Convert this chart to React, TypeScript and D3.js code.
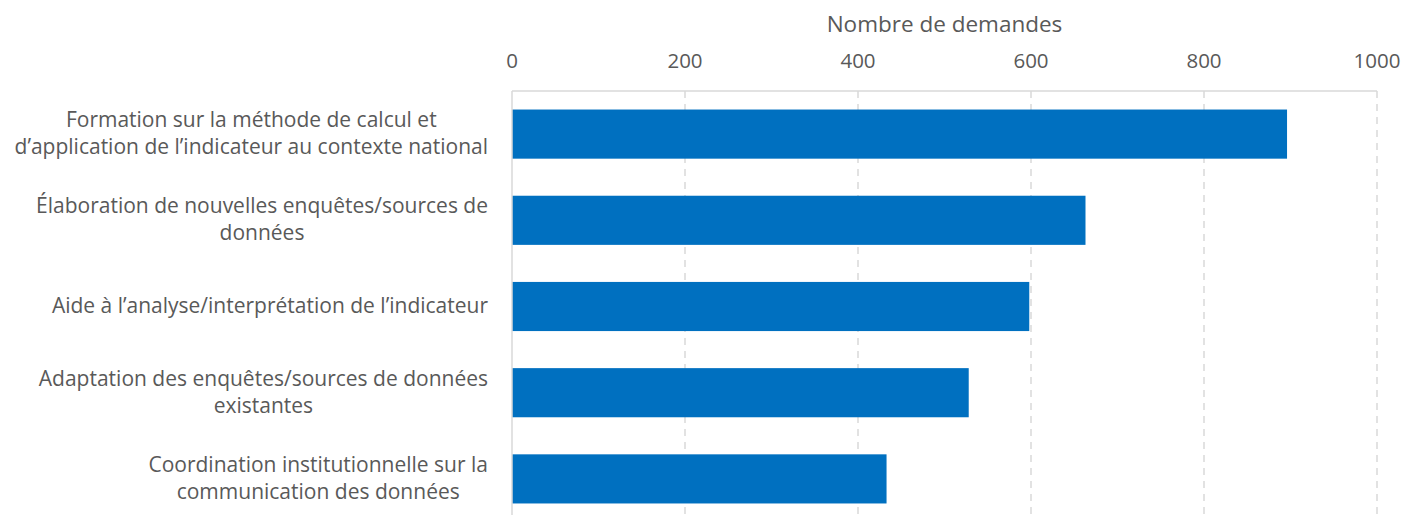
import React, { useEffect, useRef } from "react";
import * as d3 from "d3";

const categories: string[][] = [
  ["Formation sur la méthode de calcul et", "d’application de l’indicateur au contexte national"],
  ["Élaboration de nouvelles enquêtes/sources de", "données"],
  ["Aide à l’analyse/interprétation de l’indicateur"],
  ["Adaptation des enquêtes/sources de données", "existantes"],
  ["Coordination institutionnelle sur la", "communication des données"],
];
const values: number[] = [896, 663, 598, 528, 433];
const xTicks: number[] = [0, 200, 400, 600, 800, 1000];
const axisTitle = "Nombre de demandes";

const W = 1403;
const H = 515;
const FONT = "'Open Sans', sans-serif";
const TEXT = "#595959";

export default function App() {
  const ref = useRef<SVGSVGElement>(null);
  useEffect(() => {
    const svg = d3.select(ref.current);
    svg.selectAll("*").remove();
    const x = d3.scaleLinear().domain([0, 1000]).range([512, 1377]);
    const ids = categories.map((_, i) => String(i));
    const y = d3.scaleBand().domain(ids).range([91, 522]).paddingInner(0.43).paddingOuter(0.215);

    // gridlines
    svg.append("g").selectAll("line").data(xTicks.filter((t) => t > 0)).join("line")
      .attr("x1", (d) => x(d)).attr("x2", (d) => x(d))
      .attr("y1", 91).attr("y2", 522)
      .attr("stroke", "#d9d9d9").attr("stroke-width", 1.5).attr("stroke-dasharray", "7,6");
    // top axis line
    svg.append("line").attr("x1", x(0)).attr("x2", x(1000)).attr("y1", 91).attr("y2", 91)
      .attr("stroke", "#d9d9d9").attr("stroke-width", 1.5);
    // bars
    svg.append("g").selectAll("rect").data(values).join("rect")
      .attr("x", x(0)).attr("y", (_, i) => y(ids[i])!)
      .attr("width", (d) => x(d) - x(0)).attr("height", y.bandwidth())
      .attr("fill", "#0070C0");
    // left axis line
    svg.append("line").attr("x1", x(0)).attr("x2", x(0)).attr("y1", 91).attr("y2", 522)
      .attr("stroke", "#d9d9d9").attr("stroke-width", 1.5);
    // tick labels
    svg.append("g").selectAll("text").data(xTicks).join("text")
      .attr("x", (d) => x(d)).attr("y", 68).attr("text-anchor", "middle")
      .attr("font-family", FONT).attr("font-size", 20.5).attr("fill", TEXT)
      .text((d) => String(d));
    // axis title
    svg.append("text").attr("x", (x(0) + x(1000)) / 2).attr("y", 32).attr("text-anchor", "middle")
      .attr("font-family", FONT).attr("font-size", 22.5).attr("fill", TEXT).text(axisTitle);
    // category labels
    const lh = 27;
    categories.forEach((lines, i) => {
      const c = y(ids[i])! + y.bandwidth() / 2;
      const g = svg.append("g");
      const texts = lines.map((ln, j) =>
        g.append("text").attr("x", 0).attr("y", c + (j - (lines.length - 1) / 2) * lh + 6.5)
          .attr("text-anchor", "middle").attr("font-family", FONT).attr("font-size", 21)
          .attr("fill", TEXT).text(ln)
      );
      const maxW = d3.max(texts, (t) => (t.node() as SVGTextElement).getComputedTextLength()) || 0;
      g.attr("transform", `translate(${488 - maxW / 2},0)`);
    });
  }, []);
  return (
    <svg ref={ref} width={W} height={H}
      style={{ position: "absolute", left: 0, top: 0, background: "#fff" }} />
  );
}
